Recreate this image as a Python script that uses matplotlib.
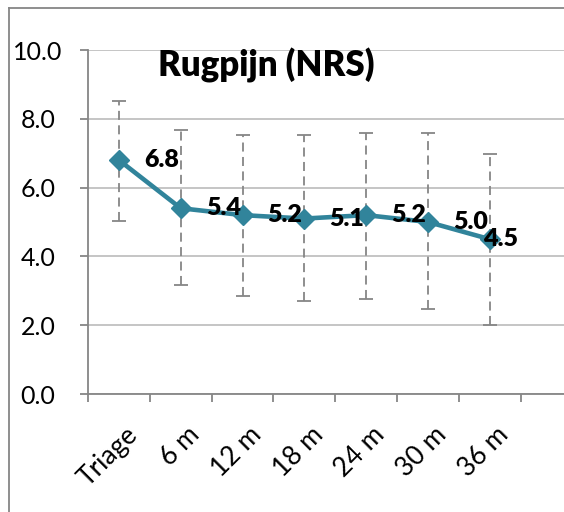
import numpy as np
import matplotlib.pyplot as plt
import matplotlib.transforms as mtransforms
from matplotlib.lines import Line2D

plt.rcParams['font.family'] = ['Lato', 'DejaVu Sans']

# categories, means, error bar extents
labels = ["Triage", "6 m", "12 m", "18 m", "24 m", "30 m", "36 m"]
means = [6.8, 5.4, 5.2, 5.1, 5.2, 5.0, 4.5]
err_low = [1.77, 2.23, 2.34, 2.40, 2.43, 2.53, 2.50]
err_high = [1.72, 2.27, 2.33, 2.43, 2.40, 2.60, 2.47]

fig = plt.figure(figsize=(5.64, 5.12), dpi=100)
ax = fig.add_axes([88/564, 1 - 394/512, 1 - 88/564, 344/512])

x = np.arange(len(labels))
teal = '#31849b'
grey = '#868686'

eb = ax.errorbar(x, means, yerr=[err_low, err_high], fmt='none',
                 ecolor=grey, elinewidth=1.3, capsize=5, capthick=1.3, zorder=2)
eb[2][0].set_linestyle((0, (5, 3)))

ax.plot(x, means, color=teal, lw=3.3, marker='D', ms=10, zorder=3)

for i, v in enumerate(means):
    dx = 18 if i < len(means) - 1 else -5
    ax.annotate(f"{v:.1f}", (x[i], v), xytext=(dx, 0), textcoords='offset points',
                ha='left', va='center', fontsize=18, fontweight='heavy', zorder=4)

ax.set_yticks(np.arange(0, 10.1, 2))
ax.set_yticklabels([f"{t:.1f}" for t in np.arange(0, 10.1, 2)], ha='center')
ax.tick_params(axis='y', length=6, color=grey, pad=30, labelsize=18, width=1.3)

ax.set_xticks(x)
ax.set_xticklabels(labels, rotation=45, ha='right', rotation_mode='anchor', fontsize=19)
ax.tick_params(axis='x', which='major', length=0, pad=20)
shift = mtransforms.ScaledTranslation(6/100, 0, fig.dpi_scale_trans)
for lab in ax.get_xticklabels():
    lab.set_transform(lab.get_transform() + shift)
ax.set_xticks(np.arange(-0.5, 7.0, 1), minor=True)
ax.tick_params(axis='x', which='minor', length=6, color=grey, width=1.3)

ax.set_ylim(0, 10)
ax.set_xlim(-0.5, 7.2)

ax.grid(axis='y', color='#c0c0c0', lw=1.3)
ax.set_axisbelow(True)
for s in ['top', 'right']:
    ax.spines[s].set_visible(False)
for s in ['left', 'bottom']:
    ax.spines[s].set_color(grey)
    ax.spines[s].set_linewidth(1.3)

ax.text(0.375, 0.955, "Rugpijn (NRS)", transform=ax.transAxes, ha='center', va='center',
        fontsize=25, fontweight='heavy')

# outer chart border
fig.add_artist(Line2D([9/564, 9/564], [0, 1 - 8/512], color=grey, lw=1.3))
fig.add_artist(Line2D([9/564, 1], [1 - 8/512, 1 - 8/512], color=grey, lw=1.3))

fig.savefig('out.png', dpi=100)
